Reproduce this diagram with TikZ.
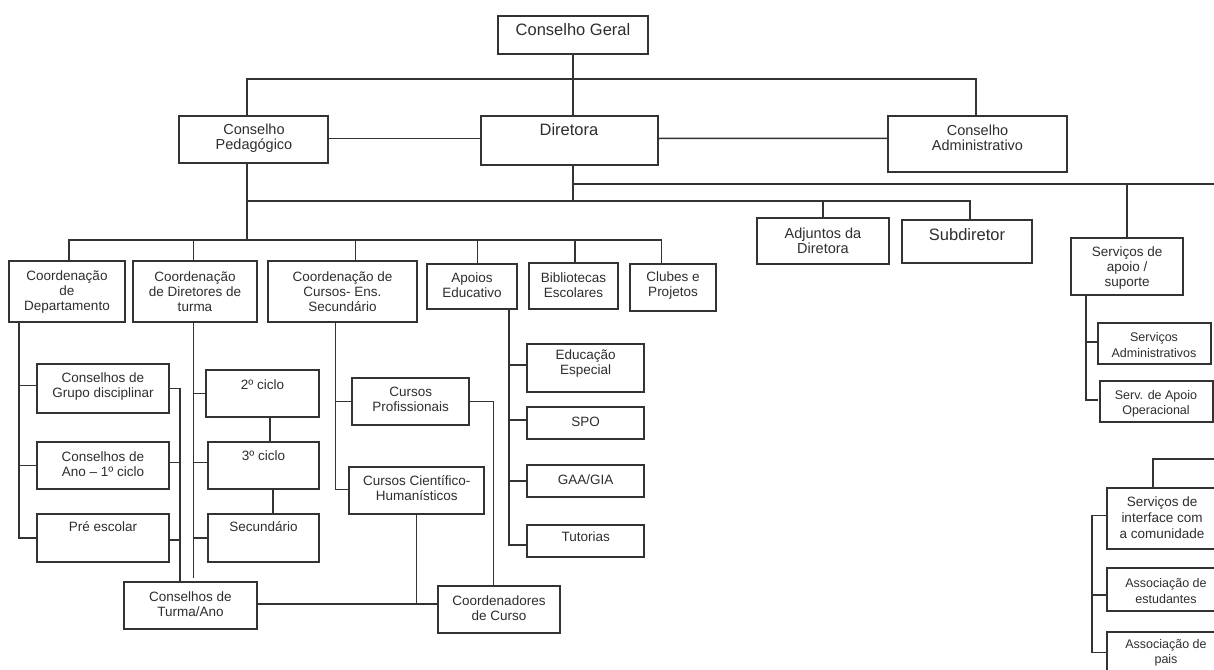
\documentclass[tikz,border=0pt]{standalone}
\usepackage{fontspec}
\setmainfont{Liberation Sans}
\usetikzlibrary{calc}
\tikzset{
  ln/.style={line width=1.5pt, draw=black!80},
  bx/.style={draw=black!80, line width=1.6pt, rectangle, inner sep=0pt, outer sep=0pt},
  tx/.style={align=center, inner sep=0pt, text=black!82, font=\fontsize{13.5}{15}\selectfont},
  fbig/.style={font=\fontsize{16.5}{18}\selectfont},
  fmid/.style={font=\fontsize{14.5}{15.5}\selectfont},
  fsml/.style={font=\fontsize{12.5}{15.5}\selectfont},
}
\newcommand\mkbox[5]{\node[bx, minimum width={#4-#2}, minimum height={#5-#3}] (#1) at ({(#2+#4)/2},{(#3+#5)/2}) {};}
\begin{document}
\begin{tikzpicture}[x=1pt,y=-1pt]
\useasboundingbox (0,0) rectangle (1214,669);
\clip (0,0) rectangle (1214,669);
\fill[white] (0,0) rectangle (1214,669);
% ---------- boxes ----------
\mkbox{cg}{498}{16}{648}{54}
\mkbox{dir}{481}{116}{658}{165}
\mkbox{cp}{179}{116}{328}{163}
\mkbox{ca}{888}{116}{1067}{172}
\mkbox{cdep}{9}{261}{125}{322}
\mkbox{cdir}{133}{261}{257}{322}
\mkbox{ccur}{268}{261}{417}{322}
\mkbox{apo}{427}{264}{517}{309}
\mkbox{bib}{529}{263}{618}{309}
\mkbox{clu}{630}{264}{716}{311}
\mkbox{adj}{757}{218}{889}{264}
\mkbox{sub}{902}{220}{1032}{263}
\mkbox{sas}{1071}{238}{1183}{295}
\mkbox{sad}{1098}{323}{1211}{364}
\mkbox{sao}{1100}{381}{1213}{422}
\mkbox{cgd}{37}{364}{169}{413}
\mkbox{cano}{37}{442}{169}{489}
\mkbox{pre}{37}{514}{169}{562}
\mkbox{ctur}{124}{582}{257}{629}
\mkbox{c2}{206}{370}{319}{417}
\mkbox{c3}{208}{442}{319}{489}
\mkbox{csec}{208}{514}{319}{562}
\mkbox{cprof}{352}{378}{469}{425}
\mkbox{cch}{349}{467}{484}{514}
\mkbox{ccoo}{438}{586}{560}{633}
\mkbox{ee}{527}{344}{644}{392}
\mkbox{spo}{527}{407}{644}{439}
\mkbox{gaa}{527}{465}{644}{497}
\mkbox{tut}{527}{525}{644}{557}
\mkbox{sic}{1107}{488}{1218}{549}
\mkbox{ae}{1107}{568}{1218}{611}
\mkbox{ap}{1107}{632}{1218}{673}
% ---------- texts ----------
\node[tx,fbig] (cg-t) at (573,30) {Conselho Geral};
\node[tx,fbig] (dir-t) at (569,130) {Diretora};
\node[tx,fmid] (cp-t) at (254,138) {Conselho\\Pedagógico};
\node[tx,fmid] (ca-t) at (977.5,138) {Conselho\\Administrativo};
\node[tx] (cdep-t) at (67,292) {Coordenação\\de\\Departamento};
\node[tx] (cdir-t) at (195,292) {Coordenação\\de Diretores de\\turma};
\node[tx] (ccur-t) at (342.5,292) {Coordenação de\\Cursos- Ens.\\Secundário};
\node[tx] (apo-t) at (472,285) {Apoios\\Educativo};
\node[tx] (bib-t) at (573.5,285) {Bibliotecas\\Escolares};
\node[tx] (clu-t) at (673,286) {Clubes e\\Projetos};
\node[tx,fmid] (adj-t) at (823,241) {Adjuntos da\\Diretora};
\node[tx,fbig] (sub-t) at (967,235) {Subdiretor};
\node[tx] (sas-t) at (1127,268) {Serviços de\\apoio /\\suporte};
\node[tx,fsml] (sad-t) at (1154,345) {Serviços\\Administrativos};
\node[tx,fsml] (sao-t) at (1156,404) {Serv. de Apoio\\Operacional};
\node[tx] (cgd-t) at (103,387) {Conselhos de\\Grupo disciplinar};
\node[tx] (cano-t) at (103,464) {Conselhos de\\Ano – 1º ciclo};
\node[tx] (pre-t) at (103,527) {Pré escolar};
\node[tx] (ctur-t) at (190.5,604) {Conselhos de\\Turma/Ano};
\node[tx] (c2-t) at (262.5,385) {2º ciclo};
\node[tx] (c3-t) at (263.5,456) {3º ciclo};
\node[tx] (csec-t) at (263.5,527) {Secundário};
\node[tx] (cprof-t) at (410.7,399) {Cursos\\Profissionais};
\node[tx] (cch-t) at (416.7,488) {Cursos Científico-\\Humanísticos};
\node[tx] (ccoo-t) at (499,608) {Coordenadores\\de Curso};
\node[tx] (ee-t) at (585.7,364) {Educação\\Especial};
\node[tx] (spo-t) at (585.7,422) {SPO};
\node[tx] (gaa-t) at (585.7,480) {GAA/GIA};
\node[tx] (tut-t) at (585.7,537) {Tutorias};
\node[tx,font=\fontsize{13.5}{16}\selectfont] (sic-t) at (1162,518) {Serviços de\\interface com\\a comunidade};
\node[tx,fsml] (ae-t) at (1166,591) {Associação de\\estudantes};
\node[tx,fsml] (ap-t) at (1166,653) {Associação de\\pais};
% ---------- connectors ----------
% top level
\draw[ln] (cg.south) -- (cg.south |- dir.north);
\draw[ln] ([xshift=-6.5pt]cp.north) -- ++(0,-37) -| ([xshift=-1.5pt]ca.north);
\draw[ln] ([yshift=1pt]cp.east) -- ([yshift=2pt]dir.west);
\draw[ln] ([yshift=2pt]dir.east) -- ([yshift=5.7pt]ca.west);
% below Diretora
\draw[ln] ([xshift=3.5pt]dir.south) -- ++(0,36);
\draw[ln] ([xshift=3.5pt,yshift=-19pt]dir.south) -- ++(680,0);
\draw[ln] (sas.north) -- ++(0,-54);
\draw[ln] ([xshift=-6.5pt]cp.south) -- ++(0,77);
\draw[ln] ([xshift=-6.5pt,yshift=-38pt]cp.south) -| ([xshift=3pt]sub.north);
\draw[ln] (adj.north) -- ++(0,-17);
% second bus
\draw[ln] ([xshift=2pt]cdep.north) -- ++(0,-21) -| ([xshift=-11.3pt]clu.north);
\draw[ln] ([xshift=-1.7pt]cdir.north) -- ++(0,-21);
\draw[ln] ([xshift=13.2pt]ccur.north) -- ++(0,-21);
\draw[ln] ([xshift=5.3pt]apo.north) -- ++(0,-24);
\draw[ln] ([xshift=1.5pt]bib.north) -- ++(0,-23);
% column 1
\draw[ln] ([xshift=-48pt]cdep.south) |- (pre.west);
\draw[ln] ([yshift=2.8pt]cgd.west) -- ++(-18,0);
\draw[ln] (cano.west) -- ++(-18,0);
\draw[ln] (cgd.east) -| ([xshift=-10.5pt]ctur.north);
\draw[ln] ([yshift=3pt]cano.east) -- ++(11,0);
\draw[ln] ([yshift=-2pt]pre.east) -- ++(11,0);
% column 2
\draw[ln] ([xshift=-1.7pt]cdir.south) -- ++(0,256);
\draw[ln] (c2.west) -- ++(-12.7,0);
\draw[ln] ([yshift=3pt]c3.west) -- ++(-14.7,0);
\draw[ln] (csec.west) -- ++(-14.7,0);
\draw[ln] ([xshift=7.5pt]c2.south) -- ++(0,25);
\draw[ln] ([xshift=9.5pt]c3.south) -- ++(0,25);
% column 3
\draw[ln] ([xshift=-6.8pt]ccur.south) |- ([yshift=1pt]cch.west);
\draw[ln] (cprof.west) -- ++(-16.3,0);
\draw[ln] (cprof.east) -| ([xshift=-5.7pt]ccoo.north);
\draw[ln] (cch.south) -- ++(0,90);
\draw[ln] ([yshift=1.5pt]ctur.east) -- ([yshift=5.5pt]ccoo.west);
% apoios column
\draw[ln] ([xshift=37pt]apo.south) |- ([yshift=-4pt]tut.west);
\draw[ln] ([yshift=3pt]ee.west) -- ++(-18,0);
\draw[ln] ([yshift=3pt]spo.west) -- ++(-18,0);
\draw[ln] (gaa.west) -- ++(-18,0);
% servicos de apoio
\draw[ln] ([xshift=-41pt]sas.south) |- ([xshift=-2pt,yshift=1.5pt]sao.west);
\draw[ln] ([yshift=1.5pt]sad.west) -- ++(-12,0);
% bottom right
\draw[ln] ([xshift=-9.5pt]sic.north) -- ++(0,-29) -- ++(80,0);
\draw[ln] ([yshift=2.8pt]sic.west) -- ++(-15,0) |- (ap.west);
\draw[ln] ([yshift=-5.5pt]ae.west) -- ++(-15,0);
\end{tikzpicture}
\end{document}
